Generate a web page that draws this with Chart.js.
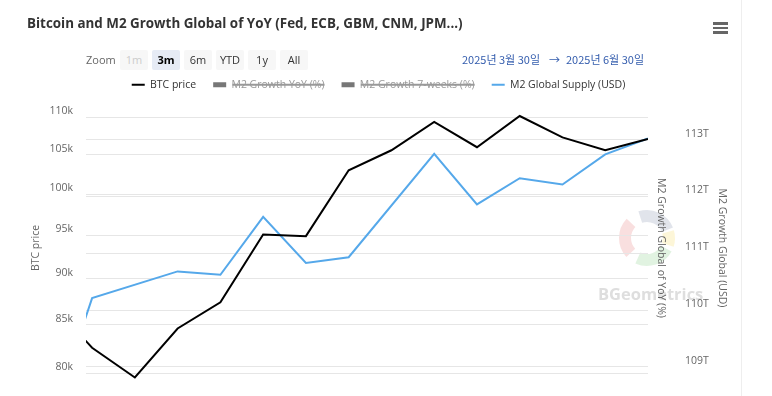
<!DOCTYPE html>
<html>
<head>
<meta charset="utf-8">
<title>Bitcoin and M2 Growth Global of YoY</title>
<script src="https://cdn.jsdelivr.net/npm/chart.js@4.4.1/dist/chart.umd.min.js"></script>
<style>
  body { margin: 0; background: #fff; overflow: hidden; font-family: 'Open Sans', sans-serif; }
  #wrap { position: relative; width: 772px; height: 396px; }
  #chart { position: absolute; left: 0; top: 0; }
  #title { position: absolute; left: 27px; top: 14px; font-size: 13.4px; font-weight: bold; color: #333; white-space: nowrap; }
  #menu { position: absolute; left: 713px; top: 22px; width: 15px; }
  #menu span { display: block; height: 2.5px; background: #666; margin-bottom: 2px; }
  #zoomLabel { position: absolute; left: 86px; top: 50px; height: 20px; line-height: 20px; font-size: 11px; color: #666; }
  .btn { position: absolute; top: 50px; width: 28px; height: 20px; line-height: 20px; text-align: center; font-size: 11px; color: #333; background: #f7f7f7; border-radius: 2px; }
  .btn.off { color: #ccc; }
  .btn.on { background: #e6ebf5; color: #000; font-weight: bold; }
  .date { position: absolute; top: 51px; line-height: 16px; font-size: 11px; color: #335cad; font-family: 'Noto Sans CJK KR', sans-serif; white-space: nowrap; }
  #edge { position: absolute; left: 741px; top: 0; width: 1px; height: 396px; background: #eee; }
</style>
</head>
<body>
<div id="wrap">
  <canvas id="chart" width="772" height="396"></canvas>
  <div id="title">Bitcoin and M2 Growth Global of YoY (Fed, ECB, GBM, CNM, JPM...)</div>
  <div id="menu"><span></span><span></span><span></span></div>
  <div id="zoomLabel">Zoom</div>
  <div id="dateFrom" class="date" style="left:462px"></div>
  <div class="date" style="left:549px">→</div>
  <div id="dateTo" class="date" style="left:566px"></div>
  <div id="edge"></div>
</div>
<script>
// Weekly BTC closes (USD)
const btcDates = ['2025-03-24', '2025-03-31', '2025-04-07', '2025-04-14', '2025-04-21', '2025-04-28', '2025-05-05',
    '2025-05-12', '2025-05-19', '2025-05-26', '2025-06-02', '2025-06-09', '2025-06-16', '2025-06-23', '2025-06-30'];
const btcPrice = [87500, 82600, 79600, 84600, 87400, 95100, 94900,
    103000, 105600, 109400, 106000, 110200, 107300, 105600, 107100];

// M2 global supply (trillions USD)
const m2Dates = ['2025-03-24', '2025-03-31', '2025-04-14', '2025-04-21', '2025-04-28', '2025-05-05', '2025-05-12',
    '2025-05-26', '2025-06-02', '2025-06-09', '2025-06-16', '2025-06-23', '2025-06-30'];
const m2Supply = [107.95, 110.21, 110.68, 110.62, 111.64, 110.83, 110.93,
    112.75, 111.86, 112.32, 112.21, 112.74, 113.02];

// Axis ticks
const btcTicks = [80000, 85000, 90000, 95000, 100000, 105000, 110000];
const m2Ticks = [109, 110, 111, 112, 113];

// Visible range
const rangeStart = '2025-03-30';
const rangeEnd = '2025-06-30';
const zoomButtons = ['1m', '3m', '6m', 'YTD', '1y', 'All'];

const btcMin = 77785, btcMax = 112415;
const m2Min = 108.487, m2Max = 113.697;

const DAY = 86400000;
const t0 = Date.parse(rangeStart);
const toDay = d => (Date.parse(d) - t0) / DAY;

// Range selector bits
zoomButtons.forEach((b, i) => {
    const el = document.createElement('div');
    el.className = 'btn' + (b === '3m' ? ' on' : '') + (b === '1m' ? ' off' : '');
    el.style.left = (120 + i * 32) + 'px';
    el.textContent = b;
    document.getElementById('wrap').appendChild(el);
});
const korDate = s => {
    const [y, m, d] = s.split('-').map(Number);
    return `${y}년 ${m}월 ${d}일`;
};
document.getElementById('dateFrom').textContent = korDate(rangeStart);
document.getElementById('dateTo').textContent = korDate(rangeEnd);

const labelFont = { family: "'Open Sans', sans-serif", size: 10.5 };
const tickFont = { family: "'Open Sans', sans-serif", size: 10.5 };

// fixed axis width, and no extra label padding above/below the plot
const fixWidth = w => s => {
    s.width = w;
    s.paddingTop = 0;
    s.paddingBottom = 0;
};

// faint BGeometrics logo behind the plot
const watermark = {
    id: 'watermark',
    beforeDraw(chart) {
        const ctx = chart.ctx;
        ctx.save();
        ctx.globalAlpha = 0.17;
        ctx.lineWidth = 12;
        const cx = 647, cy = 238, r = 22;
        [['#d9433f', 2.4, 3.9], ['#4d5f8a', 4.4, 5.9], ['#f2c81a', 6.0, 6.6], ['#4fb84f', 0.5, 2.0]].forEach(([c, a0, a1]) => {
            ctx.strokeStyle = c;
            ctx.beginPath();
            ctx.arc(cx, cy, r, a0, a1);
            ctx.stroke();
        });
        ctx.globalAlpha = 1;
        ctx.fillStyle = '#dedede';
        ctx.font = "bold 16.5px 'Open Sans', sans-serif";
        ctx.fillText('BGeometrics', 598, 295);
        ctx.restore();
    }
};

new Chart(document.getElementById('chart'), {
    type: 'line',
    data: {
        datasets: [
            {
                label: 'BTC price',
                data: btcDates.map((d, i) => ({ x: toDay(d), y: btcPrice[i] })),
                borderColor: '#000',
                borderWidth: 2,
                pointRadius: 0,
                tension: 0,
                yAxisID: 'y'
            },
            {
                label: 'M2 Growth YoY (%)',
                data: [],
                borderColor: '#777',
                backgroundColor: '#777',
                hidden: true,
                yAxisID: 'yoy'
            },
            {
                label: 'M2 Growth 7-weeks (%)',
                data: [],
                borderColor: '#777',
                backgroundColor: '#777',
                hidden: true,
                yAxisID: 'yoy'
            },
            {
                label: 'M2 Global Supply (USD)',
                data: m2Dates.map((d, i) => ({ x: toDay(d), y: m2Supply[i] })),
                borderColor: '#55a8ea',
                borderWidth: 2,
                pointRadius: 0,
                tension: 0,
                yAxisID: 'm2'
            }
        ]
    },
    options: {
        responsive: false,
        animation: false,
        layout: { autoPadding: false, padding: { top: 62.5, left: 0, right: 15, bottom: 0 } },
        plugins: {
            tooltip: { enabled: false },
            legend: {
                position: 'top',
                labels: {
                    usePointStyle: true,
                    pointStyleWidth: 13,
                    boxHeight: 5,
                    padding: 17,
                    font: labelFont,
                    generateLabels: chart => chart.data.datasets.map((ds, i) => {
                        const hidden = !chart.isDatasetVisible(i);
                        return {
                            text: ds.label,
                            datasetIndex: i,
                            hidden: hidden,
                            pointStyle: hidden ? 'rect' : 'line',
                            strokeStyle: ds.borderColor,
                            fillStyle: ds.borderColor,
                            lineWidth: hidden ? 0 : 2,
                            fontColor: hidden ? '#999' : '#333'
                        };
                    })
                }
            }
        },
        scales: {
            x: { type: 'linear', min: 0, max: toDay(rangeEnd), display: false },
            y: {
                type: 'logarithmic',
                position: 'left',
                min: btcMin,
                max: btcMax,
                bounds: 'data',
                afterBuildTicks: s => { s.ticks = btcTicks.map(v => ({ value: v })); },
                afterFit: fixWidth(86),
                grid: { color: '#e6e6e6', drawTicks: false },
                border: { display: false },
                ticks: {
                    padding: 13,
                    labelOffset: -6,
                    color: '#666',
                    font: tickFont,
                    callback: v => (v / 1000) + 'k'
                },
                title: { display: true, text: 'BTC price', color: '#666', font: labelFont, padding: { top: 30, bottom: 0 } }
            },
            yoy: {
                position: 'right',
                weight: 0,
                afterFit: fixWidth(27),
                grid: { display: false },
                border: { display: false },
                ticks: { display: false },
                title: { display: true, text: 'M2 Growth Global of YoY (%)', color: '#666', font: labelFont, padding: { top: 7.7, bottom: 0 } }
            },
            m2: {
                position: 'right',
                weight: 1,
                min: m2Min,
                max: m2Max,
                bounds: 'data',
                afterBuildTicks: s => { s.ticks = m2Ticks.map(v => ({ value: v })); },
                afterFit: fixWidth(82),
                grid: { color: '#e6e6e6', drawTicks: false },
                border: { display: false },
                ticks: {
                    padding: 10,
                    labelOffset: -6,
                    color: '#666',
                    font: tickFont,
                    callback: v => v + 'T'
                },
                title: { display: true, text: 'M2 Growth Global (USD)', color: '#666', font: labelFont, padding: { top: 28.7, bottom: 0 } }
            }
        }
    },
    plugins: [watermark]
});
</script>
</body>
</html>
